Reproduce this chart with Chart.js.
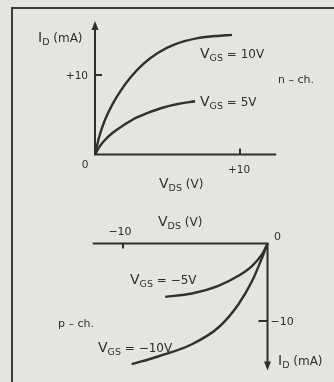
<!DOCTYPE html>
<html lang="en">
<head>
  <meta charset="UTF-8">
  <title>FET drain characteristics</title>
  <script src="https://cdn.jsdelivr.net/npm/chart.js"></script>
  <style>
    body {
      margin: 0;
      background-color: #e5e5e0;
    }
    #wrap {
      position: relative;
      width: 334px;
      height: 382px;
      overflow: hidden;
    }
    /* box around the figure */
    #frame {
      position: absolute;
      left: 11px;
      top: 7px;
      width: 340px;
      height: 400px;
      border-left: 2px solid #3c3c3c;
      border-top: 2px solid #3c3c3c;
    }
    canvas {
      position: absolute;
      left: 0;
      top: 0;
    }
  </style>
</head>
<body>
  <div id="wrap">
    <div id="frame"></div>
    <canvas id="fetChart" width="334" height="382"></canvas>
  </div>

  <script>
    // n-channel, V_DS in volts and I_D in mA
    const nVds10 = [0, 0.3, 0.7, 1.2, 1.8, 2.5, 3.3, 4.3, 5.5, 7.0, 8.3, 9.45];
    const nId10  = [0, 2.3, 4.4, 6.3, 8.1, 9.8, 11.35, 12.75, 13.85, 14.6, 14.9, 15.05];
    const nVds5  = [0, 0.3, 0.7, 1.2, 1.9, 2.7, 3.6, 4.6, 5.7, 6.9];
    const nId5   = [0, 0.95, 1.85, 2.7, 3.6, 4.5, 5.2, 5.85, 6.35, 6.7];

    // p-channel, everything negative
    const pVds5  = [-7.08, -5.23, -3.4, -2.01, -1.06, -0.37, 0];
    const pId5   = [-6.88, -6.45, -5.46, -4.17, -2.88, -1.38, 0];
    const pVds10 = [-9.4, -7.57, -5.23, -3.4, -2.01, -1.06, -0.37, 0];
    const pId10  = [-15.57, -14.58, -13.0, -10.84, -7.83, -4.81, -1.8, 0];

    const tickN = 10;
    const tickP = -10;

    const ink = '#2e2e2e';
    const font = '"DejaVu Sans", sans-serif';

    function pts(xs, ys) {
      return xs.map((x, i) => ({ x: x, y: ys[i] }));
    }

    function curve(xs, ys, xAxis, yAxis) {
      return {
        data: pts(xs, ys),
        xAxisID: xAxis,
        yAxisID: yAxis,
        borderColor: '#303030',
        borderWidth: 2.4,
        pointRadius: 0,
        fill: false,
        cubicInterpolationMode: 'monotone'
      };
    }

    // text with a subscript: parts are [text, size, dy]
    function rich(ctx, x, y, parts) {
      parts.forEach(([t, size, dy]) => {
        ctx.font = size + 'px ' + font;
        ctx.fillText(t, x, y + dy);
        x += ctx.measureText(t).width;
      });
    }

    // arrow head with its tip at (x, y); dir 1 = up, -1 = down
    function arrow(ctx, x, y, dir) {
      ctx.beginPath();
      ctx.moveTo(x, y);
      ctx.lineTo(x - 3.5, y + dir * 9);
      ctx.lineTo(x + 3.5, y + dir * 9);
      ctx.closePath();
      ctx.fill();
    }

    const axesPlugin = {
      id: 'fetAxes',
      afterDatasetsDraw(chart) {
        const ctx = chart.ctx;
        const s = chart.scales;
        ctx.save();
        ctx.strokeStyle = ink;
        ctx.fillStyle = ink;
        ctx.lineWidth = 2;
        ctx.textBaseline = 'alphabetic';

        // ---- n-channel ----
        let ox = s.x.getPixelForValue(0), oy = s.y.getPixelForValue(0);
        ctx.beginPath();
        ctx.moveTo(ox, s.y.getPixelForValue(16.0));
        ctx.lineTo(ox, oy);
        ctx.lineTo(s.x.getPixelForValue(12.5), oy);
        ctx.moveTo(ox, s.y.getPixelForValue(tickN));
        ctx.lineTo(ox + 7, s.y.getPixelForValue(tickN));
        ctx.moveTo(s.x.getPixelForValue(tickN), oy);
        ctx.lineTo(s.x.getPixelForValue(tickN), oy - 6);
        ctx.stroke();
        arrow(ctx, ox, s.y.getPixelForValue(16.8), 1);

        ctx.textAlign = 'right';
        ctx.font = '10.5px ' + font;
        ctx.fillText('+' + tickN, ox - 7, s.y.getPixelForValue(tickN) + 4);
        ctx.textAlign = 'center';
        ctx.fillText('0', ox - 10, oy + 13);
        ctx.fillText('+' + tickN, s.x.getPixelForValue(tickN) - 1, oy + 18);
        ctx.textAlign = 'left';
        rich(ctx, ox + 64, oy + 33, [['V', 14, 0], ['DS', 9.5, 3], [' (V)', 12, 0]]);
        rich(ctx, ox - 57, 42, [['I', 14, 0], ['D', 9.5, 3], [' (mA)', 12, 0]]);
        rich(ctx, 200, 58, [['V', 14, 0], ['GS', 9.5, 3], [' = 10V', 12, 0]]);
        rich(ctx, 200, 106, [['V', 14, 0], ['GS', 9.5, 3], [' = 5V', 12, 0]]);
        ctx.font = '11px ' + font;
        ctx.fillText('n – ch.', 278, 83);

        // ---- p-channel ----
        ox = s.x2.getPixelForValue(0);
        oy = s.y2.getPixelForValue(0);
        ctx.beginPath();
        ctx.moveTo(s.x2.getPixelForValue(-12.1), oy);
        ctx.lineTo(ox, oy);
        ctx.lineTo(ox, s.y2.getPixelForValue(-15.3));
        ctx.moveTo(s.x2.getPixelForValue(tickP), oy);
        ctx.lineTo(s.x2.getPixelForValue(tickP), oy + 5);
        ctx.moveTo(ox, s.y2.getPixelForValue(tickP));
        ctx.lineTo(ox - 9, s.y2.getPixelForValue(tickP));
        ctx.stroke();
        arrow(ctx, ox, s.y2.getPixelForValue(-16.4), -1);

        ctx.font = '11px ' + font;
        ctx.textAlign = 'center';
        ctx.fillText('−' + Math.abs(tickP), s.x2.getPixelForValue(tickP) - 3, oy - 9);
        ctx.fillText('0', ox + 10, oy - 4);
        ctx.textAlign = 'left';
        ctx.fillText('−' + Math.abs(tickP), ox + 3, s.y2.getPixelForValue(tickP) + 4);
        rich(ctx, 158, oy - 18, [['V', 14, 0], ['DS', 9.5, 3], [' (V)', 12, 0]]);
        rich(ctx, 130, 284, [['V', 14, 0], ['GS', 9.5, 3], [' = −5V', 12, 0]]);
        rich(ctx, 98, 352, [['V', 14, 0], ['GS', 9.5, 3], [' = −10V', 12, 0]]);
        rich(ctx, 278, 365, [['I', 14, 0], ['D', 9.5, 3], [' (mA)', 12, 0]]);
        ctx.font = '11px ' + font;
        ctx.fillText('p – ch.', 58, 327);

        ctx.restore();
      }
    };

    const hidden = { display: false, type: 'linear' };

    new Chart(document.getElementById('fetChart').getContext('2d'), {
      type: 'line',
      data: {
        datasets: [
          curve(nVds10, nId10, 'x', 'y'),
          curve(nVds5, nId5, 'x', 'y'),
          curve(pVds5, pId5, 'x2', 'y2'),
          curve(pVds10, pId10, 'x2', 'y2')
        ]
      },
      options: {
        responsive: false,
        devicePixelRatio: 1,
        animation: false,
        layout: { padding: 0 },
        plugins: { legend: { display: false }, tooltip: { enabled: false } },
        scales: {
          x:  { ...hidden, min: -6.552, max: 16.483 },
          y:  { ...hidden, min: -28.616, max: 19.434 },
          x2: { ...hidden, axis: 'x', min: -18.51, max: 4.60 },
          y2: { ...hidden, axis: 'y', min: -17.87, max: 31.42 }
        }
      },
      plugins: [axesPlugin]
    });
  </script>
</body>
</html>
